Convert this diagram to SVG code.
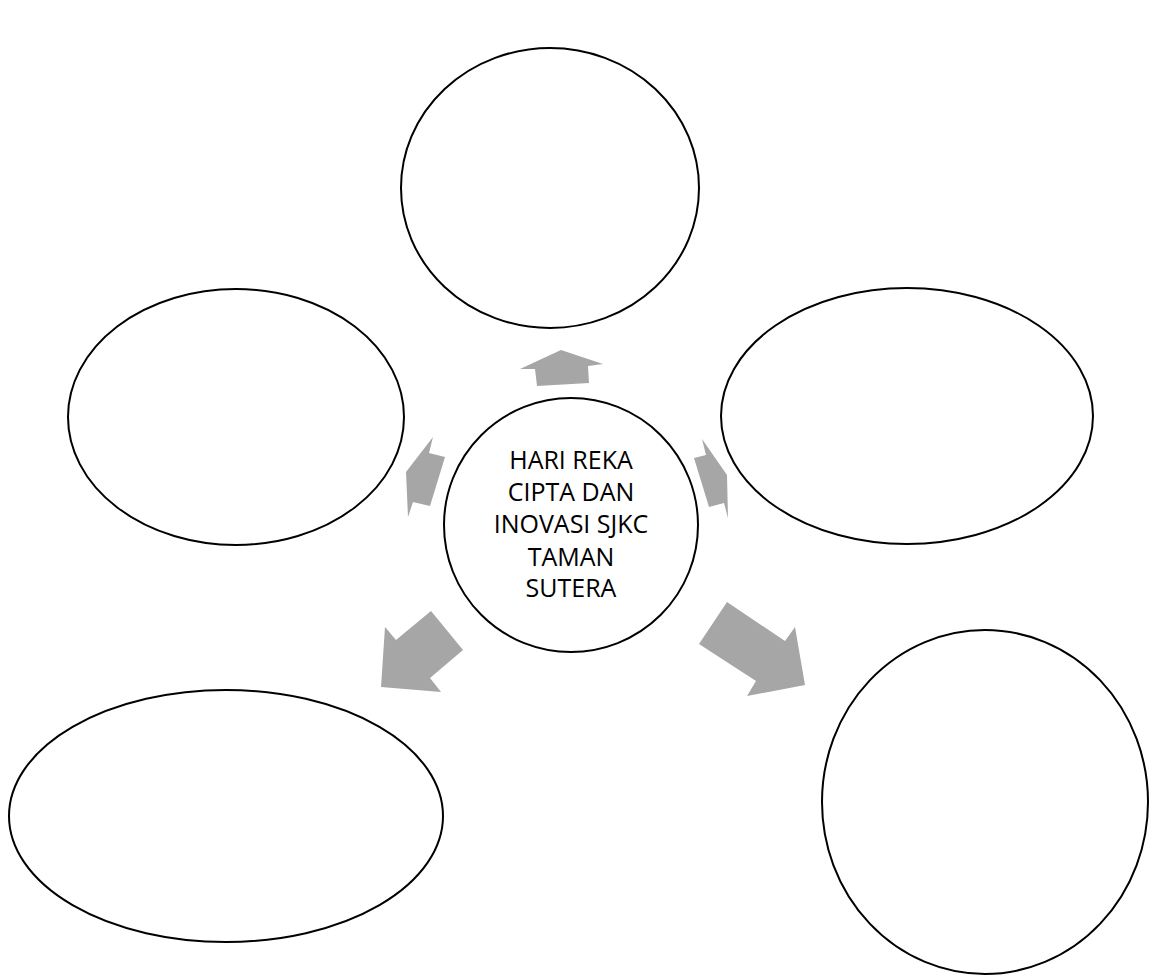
<svg xmlns="http://www.w3.org/2000/svg" width="1149" height="980" viewBox="0 0 1149 980">
<style>
.n{fill:#fff;stroke:#000;stroke-width:2}
.a{fill:#a6a6a6;stroke:none}
.t{font-family:"Open Sans","Liberation Sans",sans-serif;font-size:25px;fill:#000;text-anchor:middle}
</style>
<rect width="1149" height="980" fill="#fff"/>
<g id="top"><ellipse class="n" cx="550" cy="188" rx="149" ry="140"/></g>
<g id="left"><ellipse class="n" cx="236" cy="417" rx="168" ry="128"/></g>
<g id="right"><ellipse class="n" cx="907" cy="416" rx="186" ry="128"/></g>
<g id="bottomleft"><ellipse class="n" cx="226" cy="816" rx="217" ry="126"/></g>
<g id="bottomright"><ellipse class="n" cx="985" cy="802" rx="163" ry="172"/></g>
<g id="connectors">
<polygon class="a" points="561,350 603,364 588,366 589,383 537,386 535,369 520,369"/>
<polygon class="a" points="433,437 429,453 445,457 430,506 413,502 408,517 406,472"/>
<polygon class="a" points="702,439 727,475 728,518 724,503 709,507 694,458 706,455"/>
<polygon class="a" points="431,611 463,650 430,678 441,692 381,687 385,627 396,640"/>
<polygon class="a" points="727,602 785,641 795,627 805,685 747,696 756,681 699,644"/>
</g>
<g id="center">
<ellipse class="n" cx="571" cy="525" rx="127" ry="127"/>
<text class="t" x="571" y="469">HARI REKA</text>
<text class="t" x="571" y="501">CIPTA DAN</text>
<text class="t" x="571" y="533">INOVASI SJKC</text>
<text class="t" x="571" y="566">TAMAN</text>
<text class="t" x="571" y="597">SUTERA</text>
</g>
</svg>
